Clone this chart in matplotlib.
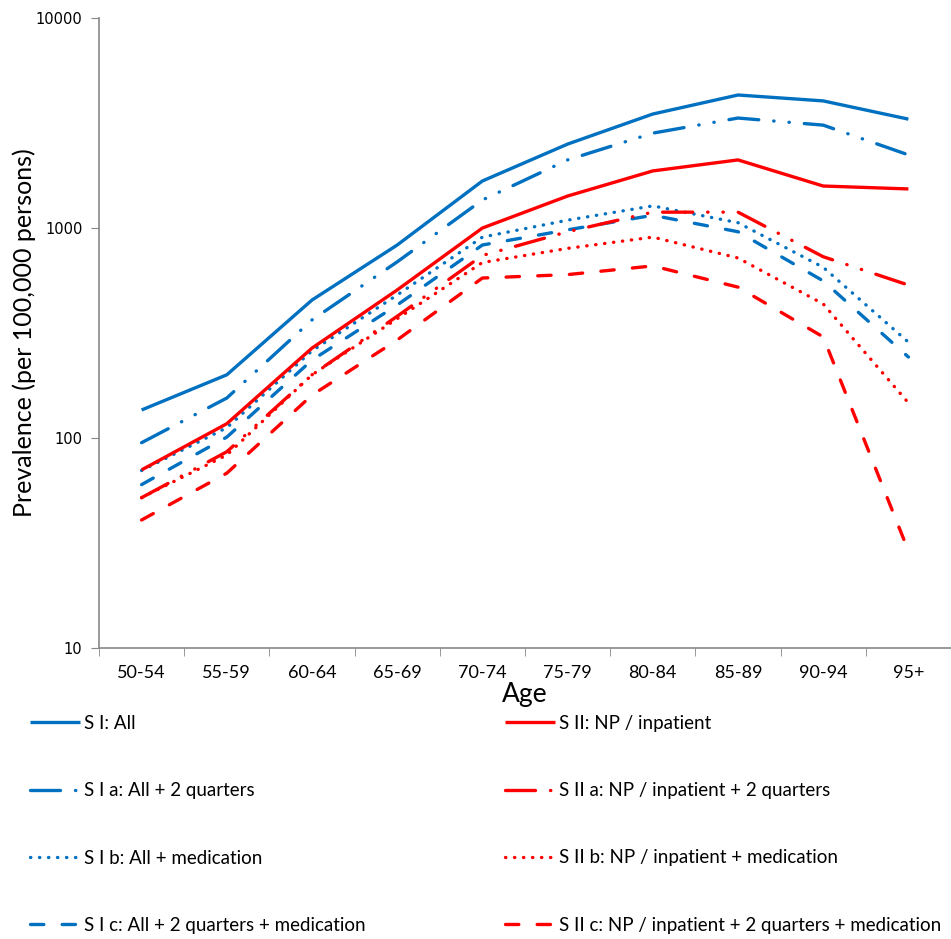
import matplotlib.pyplot as plt

# age groups
ages = ["50-54", "55-59", "60-64", "65-69", "70-74", "75-79", "80-84", "85-89", "90-94", "95+"]

# prevalence per 100,000 persons
s1_all = [136, 200, 454, 830, 1675, 2510, 3490, 4300, 4030, 3300]
s1a_2q = [95, 155, 365, 690, 1360, 2110, 2830, 3340, 3090, 2230]
s1b_med = [70, 112, 260, 480, 905, 1090, 1275, 1060, 650, 286]
s1c_2q_med = [60, 101, 235, 430, 830, 980, 1150, 960, 560, 243]
s2_np = [70.5, 117, 268, 507, 1000, 1420, 1870, 2110, 1585, 1535]
s2a_2q = [52, 86, 200, 380, 740, 960, 1190, 1190, 730, 535]
s2b_med = [52, 83, 200, 370, 685, 800, 905, 720, 435, 147]
s2c_2q_med = [40.7, 68, 160, 293, 578, 600, 660, 523, 303, 29]

labels_s1 = ["S I: All", "S I a: All + 2 quarters", "S I b: All + medication",
             "S I c: All + 2 quarters + medication"]
labels_s2 = ["S II: NP / inpatient", "S II a: NP / inpatient + 2 quarters",
             "S II b: NP / inpatient + medication",
             "S II c: NP / inpatient + 2 quarters + medication"]

blue = "#0070C0"
red = "#FF0000"
lw = 2.4
styles = ["-", (0, (9, 4.5, 0.1, 4.5, 0.1, 4.5)), (0, (0.1, 2.6)), (0, (4, 5.5))]

plt.rcParams["font.family"] = ["Lato", "DejaVu Sans"]

fig = plt.figure(figsize=(9.51, 9.39), dpi=100)
ax = fig.add_axes([0.1041, 0.3099, 0.8959, 0.6709])

x = list(range(len(ages)))
handles1 = []
handles2 = []
for data, ls, lab in zip([s1_all, s1a_2q, s1b_med, s1c_2q_med], styles, labels_s1):
    l, = ax.plot(x, data, color=blue, lw=lw, linestyle=ls, dash_capstyle="round",
                 solid_capstyle="butt", label=lab)
    handles1.append(l)
for data, ls, lab in zip([s2_np, s2a_2q, s2b_med, s2c_2q_med], styles, labels_s2):
    l, = ax.plot(x, data, color=red, lw=lw, linestyle=ls, dash_capstyle="round",
                 solid_capstyle="butt", label=lab)
    handles2.append(l)

ax.set_yscale("log")
ax.set_ylim(10, 10000)
ax.set_xlim(-0.5, 9.5)
ax.set_yticks([10, 100, 1000, 10000])
ax.set_yticklabels(["10", "100", "1000", "10000"], family="DejaVu Sans", fontsize=10.5)
ax.minorticks_off()
ax.set_xticks([i + 0.5 for i in range(-1, 10)], minor=True)
ax.set_xticks(x)
ax.set_xticklabels(ages, fontsize=13)
ax.tick_params(axis="x", which="major", length=0, pad=12)
ax.tick_params(axis="x", which="minor", length=6, color="#888888", direction="out")
ax.tick_params(axis="y", length=6, color="#888888", direction="out", pad=6)
for side in ["top", "right"]:
    ax.spines[side].set_visible(False)
for side in ["left", "bottom"]:
    ax.spines[side].set_color("#888888")
    ax.spines[side].set_linewidth(1.2)

ax.set_xlabel("Age", fontsize=19, labelpad=1)
ax.set_ylabel("Prevalence (per 100,000 persons)", fontsize=18, labelpad=0)

leg_kw = dict(frameon=False, fontsize=13.5, handlelength=2.67, handletextpad=0.2,
              labelspacing=2.68, borderpad=0, borderaxespad=0, loc="upper left")
fig.legend(handles=handles1, bbox_to_anchor=(30 / 951, 1 - 715 / 939), **leg_kw)
fig.legend(handles=handles2, bbox_to_anchor=(505 / 951, 1 - 715 / 939), **leg_kw)

fig.savefig("out.png", dpi=100)
